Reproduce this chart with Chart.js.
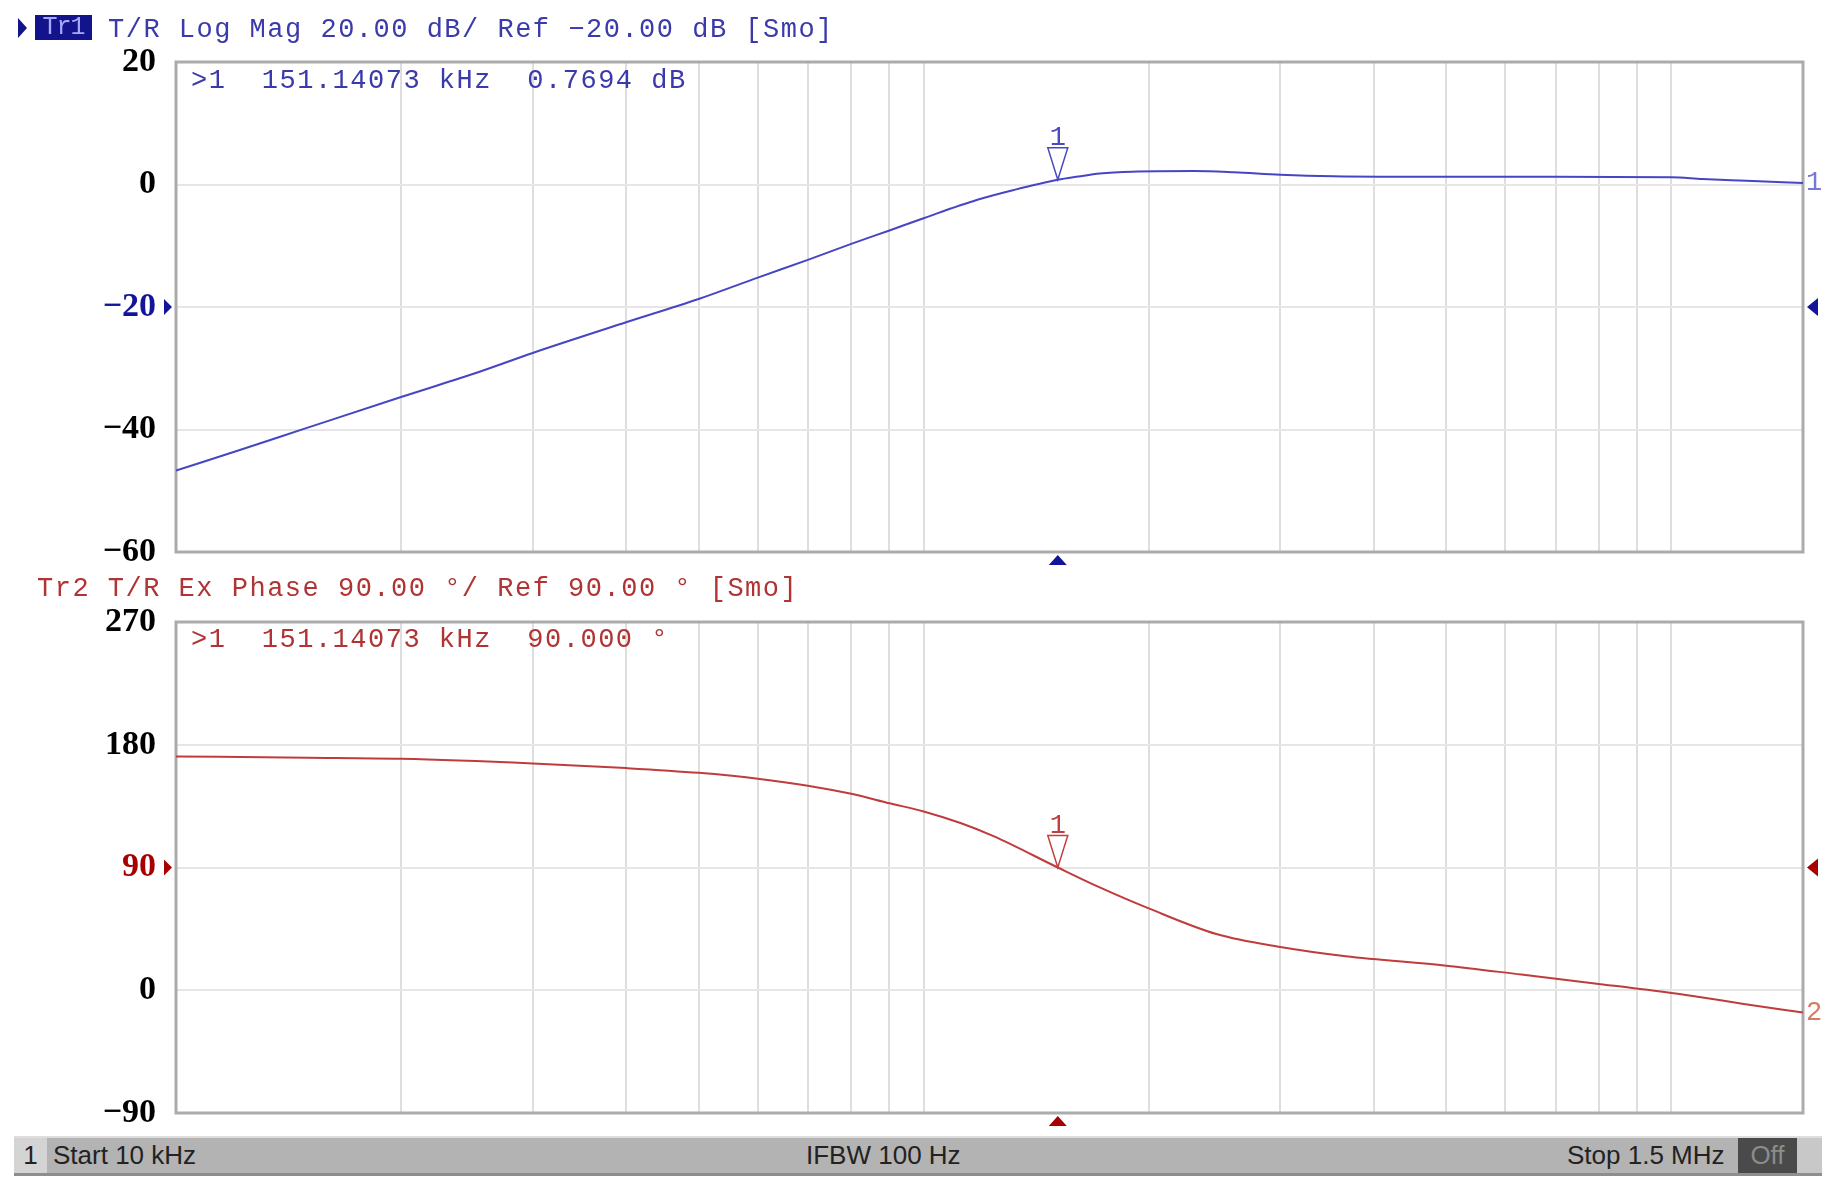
<!DOCTYPE html>
<html>
<head>
<meta charset="utf-8">
<script src="https://cdn.jsdelivr.net/npm/chart.js@4.4.0/dist/chart.umd.min.js"></script>
<style>
body { margin:0; background:#fff; width:1836px; height:1187px; position:relative; overflow:hidden; }
canvas { position:absolute; left:0; }
.txt { position:absolute; font-family:"Liberation Mono", "DejaVu Sans Mono", monospace; font-size:27px; line-height:27px; letter-spacing:1.5px; white-space:pre; }
.blue { color:#3a3aaa; }
.red { color:#b03434; }
#tr1box { position:absolute; left:35px; top:15px; width:57px; height:25px; background:#13138c; color:#a8a8ff; font-family:"Liberation Mono", monospace; font-size:25px; line-height:25px; text-align:center; letter-spacing:-1px; }
#tr1arrow { position:absolute; left:18px; top:18px; width:0; height:0; border-top:10px solid transparent; border-bottom:10px solid transparent; border-left:9px solid #13138c; }
#footer { position:absolute; left:14px; top:1136px; width:1808px; height:35px; background:#b3b3b3; border-top:2px solid #dedede; border-bottom:3px solid #8e8e8e; font-family:"Liberation Sans Narrow", "Liberation Sans", sans-serif; font-size:26px; color:#222; }
#footer div { position:absolute; top:0; height:35px; line-height:35px; white-space:nowrap; }
</style>
</head>
<body>
<canvas id="magChart" width="1836" height="600" style="top:0"></canvas>
<canvas id="phaseChart" width="1836" height="627" style="top:560px"></canvas>

<div id="tr1arrow"></div>
<div id="tr1box">Tr1</div>
<div class="txt blue" style="left:108px;top:17px">T/R Log Mag 20.00 dB/ Ref −20.00 dB [Smo]</div>
<div class="txt blue" style="left:191px;top:68px">&gt;1  151.14073 kHz  0.7694 dB</div>
<div class="txt red" style="left:37px;top:576px">Tr2 T/R Ex Phase 90.00 °/ Ref 90.00 ° [Smo]</div>
<div class="txt red" style="left:191px;top:627px">&gt;1  151.14073 kHz  90.000 °</div>

<div id="footer">
  <div style="left:0;width:33px;background:#d4d4d4;text-align:center">1</div>
  <div style="left:39px">Start 10 kHz</div>
  <div style="left:792px">IFBW 100 Hz</div>
  <div style="left:1553px">Stop 1.5 MHz</div>
  <div style="left:1724px;width:59px;background:#4a4a4a;color:#8c8c8c;text-align:center">Off</div>
  <div style="left:1783px;width:25px;background:#c8c8c8"></div>
</div>

<script>
// ----------------------------
// DATA
// ----------------------------
const gridFreqs = [10, 20, 30, 40, 50, 60, 70, 80, 90, 100, 200, 300, 400, 500, 600, 700, 800, 900, 1000, 1500];

const magFreqs = [10, 12, 15, 20, 25, 30, 40, 50, 60, 70, 80, 90, 100, 118, 132, 151.14, 161, 172, 190, 230, 260, 300, 353, 500, 700, 1000, 1100, 1260, 1410, 1500];
const magDb = [-46.7, -43.6, -39.7, -34.7, -30.9, -27.5, -22.5, -18.7, -15.2, -12.3, -9.7, -7.5, -5.5, -2.5, -0.9, 0.77, 1.3, 1.8, 2.1, 2.2, 2.0, 1.6, 1.35, 1.25, 1.25, 1.2, 0.9, 0.6, 0.35, 0.25];

const phaseFreqs = [10, 15, 20, 30, 40, 50, 60, 70, 80, 90, 100, 112, 124, 151.14, 172, 200, 247, 300, 367, 500, 630, 790, 1000, 1090, 1250, 1500];
const phaseDeg = [171.4, 170.5, 169.7, 166.3, 162.9, 159.4, 155.1, 150, 144, 137.1, 131.1, 122.6, 113, 90, 75.4, 60, 41, 31.7, 24.9, 18, 11.5, 5, -2, -5, -10, -16.4];

const markerFreq = 151.14;
const markerMag = 0.7694;
const markerPhase = 90;

// ----------------------------
// MARKERS / FRAME PLUGIN
// ----------------------------
function tri(ctx, pts, fill, color){
    ctx.beginPath();
    ctx.moveTo(pts[0][0], pts[0][1]);
    ctx.lineTo(pts[1][0], pts[1][1]);
    ctx.lineTo(pts[2][0], pts[2][1]);
    ctx.closePath();
    if(fill){
        ctx.fillStyle = color;
        ctx.fill();
    } else {
        ctx.strokeStyle = color;
        ctx.lineWidth = 1.5;
        ctx.stroke();
    }
}

const markerPlugin = {
    id: "markers",
    beforeDatasetsDraw(chart){
        const a = chart.chartArea;
        const ctx = chart.ctx;
        ctx.save();
        ctx.strokeStyle = "#ababab";
        ctx.lineWidth = 3;
        ctx.strokeRect(a.left, a.top, a.right - a.left, a.bottom - a.top);
        ctx.restore();
    },
    afterDraw(chart){
        const o = chart.options.plugins.markers;
        const ctx = chart.ctx;
        const a = chart.chartArea;
        const xs = chart.scales.x, ys = chart.scales.y;
        const mx = xs.getPixelForValue(o.freq);
        const my = ys.getPixelForValue(o.value);
        ctx.save();

        // marker 1 outline triangle
        tri(ctx, [[mx - 10, my - 32], [mx + 10, my - 32], [mx, my]], false, o.color);
        ctx.fillStyle = o.color;
        ctx.font = "27px 'Liberation Mono'";
        ctx.textAlign = "center";
        ctx.textBaseline = "alphabetic";
        ctx.fillText("1", mx, my - 35);

        // stimulus marker under the grid
        tri(ctx, [[mx, a.bottom + 3], [mx - 9, a.bottom + 13], [mx + 9, a.bottom + 13]], true, o.refColor);

        // reference level arrows
        const ry = ys.getPixelForValue(o.ref);
        tri(ctx, [[a.left - 12, ry - 8], [a.left - 12, ry + 8], [a.left - 4, ry]], true, o.refColor);
        tri(ctx, [[a.right + 15, ry - 9], [a.right + 15, ry + 9], [a.right + 4, ry]], true, o.refColor);

        // trace end label
        const last = chart.data.datasets[0].data;
        const ey = ys.getPixelForValue(last[last.length - 1].y);
        ctx.fillStyle = o.endColor;
        ctx.textAlign = "left";
        ctx.textBaseline = "middle";
        ctx.font = "27px 'Liberation Mono'";
        ctx.fillText(o.endLabel, a.right + 3, ey);
        ctx.restore();
    }
};

// ----------------------------
// CHART
// ----------------------------
function makeChart(id, freqs, vals, color, yMin, yMax, step, pad, mk){
    const data = freqs.map((f, i) => ({ x: f, y: vals[i] }));
    return new Chart(document.getElementById(id), {
        type: "line",
        data: {
            datasets: [{
                data: data,
                borderColor: color,
                borderWidth: 2,
                pointRadius: 0,
                cubicInterpolationMode: "monotone"
            }]
        },
        options: {
            responsive: false,
            animation: false,
            devicePixelRatio: 1,
            layout: { padding: { top: pad.top, bottom: pad.bottom, left: 0, right: 33 } },
            plugins: {
                legend: { display: false },
                tooltip: { enabled: false },
                markers: mk
            },
            scales: {
                x: {
                    type: "logarithmic",
                    min: 10,
                    max: 1500,
                    afterBuildTicks: (s) => { s.ticks = gridFreqs.map(v => ({ value: v })); },
                    afterFit: (s) => { s.height = 0; },
                    ticks: { display: false },
                    border: { display: false },
                    grid: { color: "#dedede", lineWidth: 2, drawTicks: false }
                },
                y: {
                    min: yMin,
                    max: yMax,
                    afterFit: (s) => { s.width = 176; },
                    afterBuildTicks: (s) => {
                        const t = [];
                        for(let v = yMin; v <= yMax; v += step) t.push({ value: v });
                        s.ticks = t;
                    },
                    border: { display: false },
                    grid: { color: "#e6e6e6", lineWidth: 2, drawTicks: false },
                    ticks: {
                        padding: 20,
                        font: { family: "'Liberation Serif', serif", size: 34, weight: "bold" },
                        color: (c) => c.tick.value === mk.ref ? mk.refColor : "#000",
                        callback: (v) => v < 0 ? "\u2212" + Math.abs(v) : "" + v
                    }
                }
            }
        },
        plugins: [markerPlugin]
    });
}

makeChart("magChart", magFreqs, magDb, "#4646c4", -60, 20, 20, { top: 62, bottom: 48 }, {
    freq: markerFreq, value: markerMag, color: "#4a4ac0", refColor: "#14149a",
    ref: -20, endLabel: "1", endColor: "#7878d8"
});

makeChart("phaseChart", phaseFreqs, phaseDeg, "#c03c3c", -90, 270, 90, { top: 62, bottom: 74 }, {
    freq: markerFreq, value: markerPhase, color: "#c04040", refColor: "#a80000",
    ref: 90, endLabel: "2", endColor: "#d87a60"
});
</script>
</body>
</html>
